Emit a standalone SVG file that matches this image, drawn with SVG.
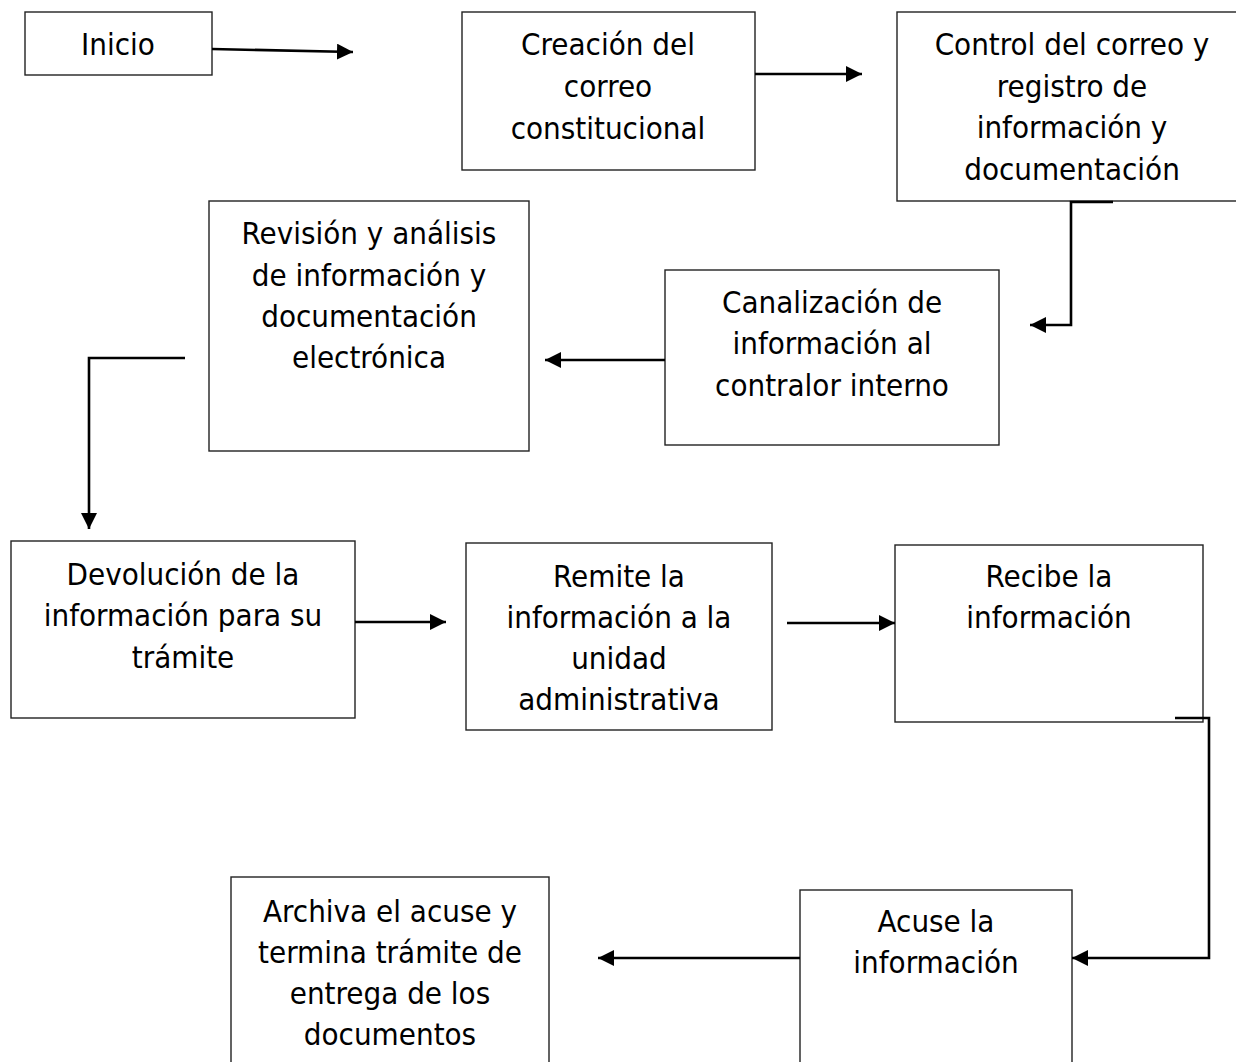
<svg xmlns="http://www.w3.org/2000/svg" width="1236" height="1062" viewBox="0 0 1236 1062">
<style>
.box{fill:#fff;stroke:#222;stroke-width:1.4}
.t{font-family:"DejaVu Sans Condensed","DejaVu Sans",Verdana,sans-serif;font-stretch:condensed;font-size:31px;fill:#000;text-anchor:middle}
.c{fill:none;stroke:#000;stroke-width:2.6}
</style>
<defs>
<marker id="ah" markerUnits="userSpaceOnUse" markerWidth="18" markerHeight="16" refX="16" refY="8" orient="auto">
<path d="M0,0 L16,8 L0,16 Z" fill="#000"/>
</marker>
</defs>
<rect width="1236" height="1062" fill="#fff"/>
<g id="n-inicio"><rect class="box" x="25" y="12" width="187" height="63"/><text class="t" x="118" y="55">Inicio</text></g>
<g id="n-creacion"><rect class="box" x="462" y="12" width="293" height="158"/>
<text class="t" x="608" y="55">Creación del</text><text class="t" x="608" y="97">correo</text><text class="t" x="608" y="139">constitucional</text></g>
<g id="n-control"><rect class="box" x="897" y="12" width="345" height="189"/>
<text class="t" x="1072" y="55">Control del correo y</text><text class="t" x="1072" y="97">registro de</text><text class="t" x="1072" y="138">información y</text><text class="t" x="1072" y="180">documentación</text></g>
<g id="n-canalizacion"><rect class="box" x="665" y="270" width="334" height="175"/>
<text class="t" x="832" y="313">Canalización de</text><text class="t" x="832" y="354">información al</text><text class="t" x="832" y="396">contralor interno</text></g>
<g id="n-revision"><rect class="box" x="209" y="201" width="320" height="250"/>
<text class="t" x="369" y="244">Revisión y análisis</text><text class="t" x="369" y="286">de información y</text><text class="t" x="369" y="327">documentación</text><text class="t" x="369" y="368">electrónica</text></g>
<g id="n-devolucion"><rect class="box" x="11" y="541" width="344" height="177"/>
<text class="t" x="183" y="585">Devolución de la</text><text class="t" x="183" y="626">información para su</text><text class="t" x="183" y="668">trámite</text></g>
<g id="n-remite"><rect class="box" x="466" y="543" width="306" height="187"/>
<text class="t" x="619" y="587">Remite la</text><text class="t" x="619" y="628">información a la</text><text class="t" x="619" y="669">unidad</text><text class="t" x="619" y="710">administrativa</text></g>
<g id="n-recibe"><rect class="box" x="895" y="545" width="308" height="177"/>
<text class="t" x="1049" y="587">Recibe la</text><text class="t" x="1049" y="628">información</text></g>
<g id="n-acuse"><rect class="box" x="800" y="890" width="272" height="180"/>
<text class="t" x="936" y="932">Acuse la</text><text class="t" x="936" y="973">información</text></g>
<g id="n-archiva"><rect class="box" x="231" y="877" width="318" height="193"/>
<text class="t" x="390" y="922">Archiva el acuse y</text><text class="t" x="390" y="963">termina trámite de</text><text class="t" x="390" y="1004">entrega de los</text><text class="t" x="390" y="1045">documentos</text></g>
<g id="connectors">
<path class="c" d="M212,49 L353,52" marker-end="url(#ah)"/>
<path class="c" d="M755,74 L862,74" marker-end="url(#ah)"/>
<path class="c" d="M1113,202 L1071,202 L1071,325 L1030,325" marker-end="url(#ah)"/>
<path class="c" d="M665,360 L545,360" marker-end="url(#ah)"/>
<path class="c" d="M185,358 L89,358 L89,529" marker-end="url(#ah)"/>
<path class="c" d="M355,622 L446,622" marker-end="url(#ah)"/>
<path class="c" d="M787,623 L895,623" marker-end="url(#ah)"/>
<path class="c" d="M1175,718 L1209,718 L1209,958 L1072,958" marker-end="url(#ah)"/>
<path class="c" d="M800,958 L598,958" marker-end="url(#ah)"/>
</g>
</svg>
